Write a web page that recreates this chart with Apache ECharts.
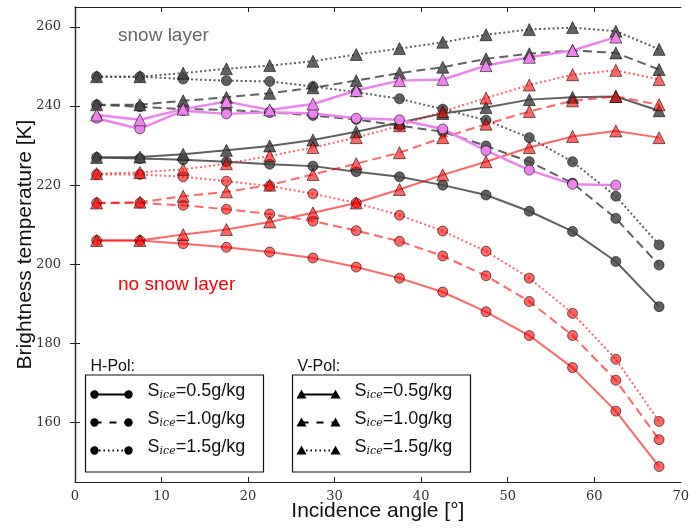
<!DOCTYPE html>
<html><head><meta charset="utf-8">
<script src="https://cdn.jsdelivr.net/npm/echarts@6/dist/echarts.min.js"></script>
<style>html,body{margin:0;padding:0;background:#fff}#c{width:692px;height:528px}</style>
</head><body><div id="c"></div>
<script>
// ---- data ----
const angles = [2.5,7.5,12.5,17.5,22.5,27.5,32.5,37.5,42.5,47.5,52.5,57.5,62.5,67.5];
const yTicks = [160,180,200,220,240,260];
const xTicks = [0,10,20,30,40,50,60,70];
// snow layer (gray)
const snowH05 = [227.0,226.7,226.4,225.9,225.3,224.8,223.4,222.1,220.0,217.5,213.4,208.3,200.7,189.3];
const snowH10 = [240.3,239.8,239.2,239.0,238.4,237.6,236.6,235.0,233.5,229.9,225.9,220.5,211.6,199.8];
const snowH15 = [247.4,247.4,246.8,246.4,246.2,244.9,243.5,241.8,239.2,236.4,232.0,225.9,217.2,204.9];
const snowV05 = [227.0,227.1,227.8,228.8,229.9,231.4,233.5,235.8,238.1,239.6,241.6,242.2,242.4,238.8];
const snowV10 = [240.3,240.3,241.3,242.2,243.2,244.6,246.4,248.3,249.8,251.9,253.2,254.0,253.4,249.2];
const snowV15 = [247.4,247.4,248.3,249.4,250.2,251.3,253.0,254.5,256.1,258.0,259.3,259.8,258.9,254.3];
// no snow layer (red)
const bareH05 = [206.0,206.0,205.2,204.3,203.1,201.6,199.3,196.5,193.0,188.0,182.0,173.9,162.9,148.9];
const bareH10 = [215.5,215.5,214.9,213.9,212.7,210.9,208.5,205.8,202.1,197.1,190.6,182.0,170.7,155.7];
const bareH15 = [222.7,222.7,222.1,221.0,219.8,217.8,215.5,212.4,208.4,203.3,196.5,187.6,176.0,160.3];
const bareV05 = [206.0,206.0,207.5,208.8,210.7,213.0,215.5,218.9,222.6,225.9,229.5,232.3,233.7,232.0];
const bareV10 = [215.5,215.7,217.2,218.3,220.0,222.7,225.4,228.2,232.0,235.4,238.6,241.3,242.4,240.3];
const bareV15 = [222.9,223.2,224.0,225.4,227.4,229.5,232.0,235.0,238.6,242.0,245.3,247.9,249.0,246.7];
// magenta series
const magH = [236.9,234.2,238.8,238.0,238.4,238.1,236.9,236.5,234.2,228.7,223.8,220.2,220.0];
const magV = [237.7,236.5,239.2,241.1,239.0,240.5,243.9,246.4,246.7,250.2,252.3,254.0,257.4];

// ---- styling ----
const DASH = [9,5], DOT = [2,2.5];
function mk(vals, lineColor, fill, sym, dash, w) {
  return {
    type: 'line',
    data: vals.map((v,i)=>[angles[i], v]),
    symbol: sym,
    symbolSize: sym === 'triangle' ? 12 : 10,
    showSymbol: true,
    lineStyle: {color: lineColor, width: w || 2, type: dash || 'solid'},
    itemStyle: {color: fill, borderColor: 'rgba(0,0,0,0.55)', borderWidth: 1},
    emphasis: {disabled: true},
    z: 2
  };
}
const GL = 'rgba(68,68,68,0.85)', GF = 'rgba(70,70,70,0.85)';
const RL = 'rgba(255,0,0,0.6)', RF = 'rgba(255,0,0,0.6)';
const ML = '#ee82ee', MF = '#ee82ee';
const series = [
  mk(snowH05, GL, GF, 'circle'), mk(snowH10, GL, GF, 'circle', DASH), mk(snowH15, GL, GF, 'circle', DOT),
  mk(snowV05, GL, GF, 'triangle'), mk(snowV10, GL, GF, 'triangle', DASH), mk(snowV15, GL, GF, 'triangle', DOT),
  mk(bareH05, RL, RF, 'circle'), mk(bareH10, RL, RF, 'circle', DASH), mk(bareH15, RL, RF, 'circle', DOT),
  mk(bareV05, RL, RF, 'triangle'), mk(bareV10, RL, RF, 'triangle', DASH), mk(bareV15, RL, RF, 'triangle', DOT),
  mk(magH, ML, MF, 'circle', null, 2.5), mk(magV, ML, MF, 'triangle', null, 2.5)
];

const serif = "'DejaVu Serif', 'Liberation Serif', serif";
const sans = "'Liberation Sans', Arial, sans-serif";
const tickStyle = {show: true, inside: true, length: 5, lineStyle: {color: '#222'}};
const lineStyleAx = {show: true, lineStyle: {color: '#222', width: 1.2}};

// ---- legend (graphic) ----
const G = [];
function legendBlock(x0, title, sym) {
  G.push({type:'text', left: x0 + 5, top: 359, style:{text: title, font: "16px " + sans, fill:'#111'}});
  G.push({type:'rect', shape:{x: x0, y: 375, width: 178, height: 97}, style:{fill:'#fff', stroke:'#111', lineWidth:1.2}, z: 10});
  const rows = [394.5, 422.5, 450.5];
  const labels = ['0.5','1.0','1.5'];
  const dashes = [null, [7,8], [1.5,3]];
  rows.forEach((y, i) => {
    const lx1 = x0 + 9, lx2 = x0 + 43;
    G.push({type:'line', shape:{x1: lx1, y1: y, x2: lx2, y2: y}, style:{stroke:'#000', lineWidth:2, lineDash: dashes[i]}, z: 11});
    [lx1, lx2].forEach(cx => {
      if (sym === 'circle') {
        G.push({type:'circle', shape:{cx: cx, cy: y, r: 4.2}, style:{fill:'#000'}, z: 12});
      } else {
        G.push({type:'polygon', shape:{points:[[cx, y-5],[cx-5, y+4],[cx+5, y+4]]}, style:{fill:'#000'}, z: 12});
      }
    });
    G.push({type:'text', left: x0 + 62, top: y - 12, z: 12, style:{
      text: '{s|S}{sub|ice}{s|=' + labels[i] + 'g/kg}',
      rich: {
        s: {font: "18px " + sans, fill: '#111', lineHeight: 23, verticalAlign: 'bottom'},
        sub: {font: "italic 11px " + serif, fill: '#111', lineHeight: 23, verticalAlign: 'bottom'}
      }
    }});
  });
}
legendBlock(85.5, 'H-Pol:', 'circle');
legendBlock(292.5, 'V-Pol:', 'triangle');
G.push({type:'text', left: 118, top: 26, z: 12, style:{text:'snow layer', font: "19px " + sans, fill:'#666'}});
G.push({type:'text', left: 118, top: 275, z: 12, style:{text:'no snow layer', font: "19px " + sans, fill:'#ff0000'}});

const chart = echarts.init(document.getElementById('c'), null, {renderer: 'canvas'});
chart.setOption({
  animation: false,
  backgroundColor: '#fff',
  grid: {left: 75, right: 7, top: 7, bottom: 46},
  xAxis: [
    {type:'value', min: 0, max: 70, position:'bottom',
     axisLine: lineStyleAx, axisTick: Object.assign({customValues: xTicks.slice(1,-1)}, tickStyle),
     axisLabel: {customValues: xTicks, margin: 8, color:'#333', fontFamily: serif, fontSize: 13},
     splitLine: {show:false},
     name: 'Incidence angle [°]', nameLocation:'middle', nameGap: 19, nameMoveOverlap: false,
     nameTextStyle: {fontFamily: sans, fontSize: 21, color:'#111'}},
    {type:'value', min: 0, max: 70, position:'top',
     axisLine: lineStyleAx, axisTick: Object.assign({customValues: xTicks.slice(1,-1)}, tickStyle),
     axisLabel: {show:false}, splitLine:{show:false}}
  ],
  yAxis: [
    {type:'value', min: 145, max: 265, position:'left',
     axisLine: lineStyleAx, axisTick: Object.assign({customValues: yTicks}, tickStyle),
     axisLabel: {customValues: yTicks, margin: 14, color:'#333', fontFamily: serif, fontSize: 13},
     splitLine: {show:false},
     name: 'Brightness temperature [K]', nameLocation:'middle', nameGap: 39, nameMoveOverlap: false,
     nameTextStyle: {fontFamily: sans, fontSize: 21, color:'#111'}},
    {type:'value', min: 145, max: 265, position:'right',
     axisLine: lineStyleAx, axisTick: Object.assign({customValues: yTicks}, tickStyle),
     axisLabel: {show:false}, splitLine:{show:false}}
  ],
  series: series,
  graphic: G
});
</script></body></html>
